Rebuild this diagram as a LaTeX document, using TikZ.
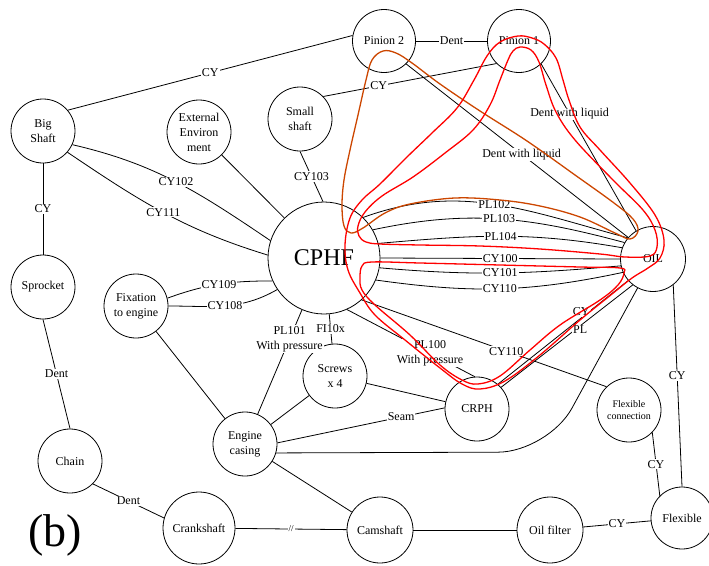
\documentclass[tikz,border=0pt]{standalone}
\usepackage{fontspec}
\setmainfont{Liberation Serif}
\usepackage{tikz}
\usetikzlibrary{topaths}
\definecolor{loopred}{RGB}{255,0,0}
\definecolor{looporange}{RGB}{204,70,0}

\begin{document}
\begin{tikzpicture}[x=1pt,y=-1pt,line width=0.8pt,
	ent/.style={circle,draw=black,line width=0.8pt,minimum size=64pt,inner sep=1pt,align=center,font=\fontsize{12}{15}\selectfont},
	lbl/.style={fill=white,inner sep=1pt,align=center,font=\fontsize{12}{15}\selectfont},
	loopr/.style={draw=loopred,line width=1.3pt},
	loopo/.style={draw=looporange,line width=1.3pt}]
	\useasboundingbox (0,0) rectangle (709,565);
	%% parts
	\node[ent,minimum size=63pt] (pin2) at (384,41) {Pinion 2};
	\node[ent,minimum size=63pt] (pin1) at (519,41) {Pinion 1};
	\node[ent] (bigshaft) at (43,131) {Big\\Shaft};
	\node[ent] (extenv) at (199,132) {External\\Environ\\ment};
	\node[ent] (smallshaft) at (300,119) {Small\\shaft};
	\node[ent,minimum size=112pt,font=\fontsize{24}{26}\selectfont] (cphf) at (324,258) {CPHF};
	\node[ent,minimum size=65pt] (oil) at (653,259) {OIL};
	\node[ent] (sprocket) at (43,287) {Sprocket};
	\node[ent] (fixation) at (136,306) {Fixation\\to engine};
	\node[ent] (screws) at (335,376) {Screws\\x 4};
	\node[ent] (engine) at (245,444) {Engine\\casing};
	\node[ent] (crph) at (477,409) {CRPH};
	\node[ent,font=\fontsize{10}{12}\selectfont] (flexconn) at (629,410) {Flexible\\connection};
	\node[ent] (chain) at (70,461) {Chain};
	\node[ent,minimum size=72pt] (crank) at (199,528) {Crankshaft};
	\node[ent,minimum size=66pt] (camshaft) at (380,530) {Camshaft};
	\node[ent,minimum size=66pt] (oilfilter) at (550,530) {Oil filter};
	\node[ent,minimum size=62pt] (flexible) at (682,518) {Flexible};
	\node[font=\fontsize{46}{50}\selectfont] (tag) at (55,535) {(b)};
	%% top links
	\draw (bigshaft.40) -- node[lbl]{CY} (pin2.170);
	\draw (pin2) -- node[lbl]{Dent} (pin1);
	\draw (smallshaft.44) -- node[lbl,pos=0.32]{CY} (pin1.225);
	\draw (pin2.314) -- node[lbl,pos=0.52]{Dent with liquid} (oil.139);
	\draw (pin1.314) -- node[lbl,pos=0.3]{Dent with liquid} (oil.121);
	%% left links
	\draw (bigshaft) -- node[lbl]{CY} (sprocket);
	\draw (bigshaft.335) to[out=-13,in=146] node[lbl]{CY102} (cphf.162);
	\draw (bigshaft.319) to[out=-34,in=163] node[lbl]{CY111} (cphf.177);
	\draw (extenv) -- (cphf);
	\draw (smallshaft.270) -- node[lbl]{CY103} (cphf.91);
	\draw (fixation.14) to[out=20,in=180] node[lbl]{CY109} (cphf.204);
	\draw (fixation.0) to[out=0,in=210] node[lbl]{CY108} (cphf.214);
	\draw (fixation) -- (engine);
	%% CPHF to the oil
	\draw (cphf.46) to[out=20,in=165] node[lbl]{PL102} (oil.140);
	\draw (cphf.30) to[out=12,in=165] node[lbl]{PL103} (oil.150);
	\draw (cphf.15) to[out=5,in=170] node[lbl]{PL104} (oil.160);
	\draw (cphf.0) -- node[lbl]{CY100} (oil.180);
	\draw (cphf.-10) to[out=-5,in=185] node[lbl]{CY101} (oil.192);
	\draw (cphf.-23) to[out=-8,in=192] node[lbl]{CY110} (oil.204);
	%% lower links
	\draw (cphf) -- node[lbl,pos=0.28]{PL101\\With pressure} (engine);
	\draw (cphf) -- node[lbl]{FI10x} (screws);
	\draw (screws) -- (engine);
	\draw (screws) -- (crph);
	\draw (cphf.294) -- node[lbl,pos=0.65]{PL100\\With pressure} (crph.94);
	\draw (cphf.312) -- node[lbl,pos=0.59]{CY110} (flexconn.134);
	\draw (crph.50) -- node[lbl,pos=0.64,yshift=6pt]{CY} (oil.221);
	\draw (crph.42) -- node[lbl,pos=0.6,yshift=-4pt]{PL} (oil.232);
	\draw (engine.2) -- node[lbl,pos=0.74]{Seam} (crph.178);
	\coordinate (bend) at (548,452);
	\draw[rounded corners=50pt] (engine.-16) -- (bend) -- (oil.242);
	\draw (engine) -- (camshaft);
	\draw (sprocket.270) -- node[lbl]{Dent} (chain.90);
	\draw (chain.-45) -- node[lbl]{Dent} (crank.164);
	\draw (crank) -- node[lbl,font=\fontsize{9}{10}\selectfont]{//} (camshaft);
	\draw (camshaft) -- (oilfilter);
	\draw (oilfilter) -- node[lbl]{CY} (flexible);
	\draw (oil.308) -- node[lbl,pos=0.45]{CY} (flexible.90);
	\draw (flexconn.316) -- node[lbl]{CY} (flexible.135);
	%% loops
	\draw[loopo] plot[smooth cycle,tension=0.6] coordinates {(383,51) (396,53) (412,63) (440,84) (480,111) (527,141) (575,175) (614,203) (633,219) (638,231) (630,239) (615,233) (580,217) (540,206) (500,200) (455,198) (410,204) (385,213) (363,228) (351,233) (344,226) (342,205) (344,180) (350,150) (358,115) (366,80) (372,60)};
	\draw[loopr] plot[smooth cycle,tension=0.6] coordinates {(520,47) (531,50) (539,62) (546,85) (556,112) (575,140) (613,180) (643,210) (655,230) (657,247) (650,256) (625,257) (600,254) (540,249) (480,246) (420,245) (380,244) (366,242) (359,236) (358,226) (365,212) (382,196) (413,177) (445,153) (473,130) (490,105) (500,80) (508,60) (513,51)};
	\draw[loopr] plot[smooth cycle,tension=0.6] coordinates {(518,36) (532,38) (544,44) (556,58) (563,80) (569,100) (580,127) (600,150) (630,183) (655,215) (664,240) (660,258) (648,268) (632,278) (612,294) (580,320) (540,355) (505,381) (480,389) (462,384) (440,368) (405,340) (375,315) (360,293) (348,270) (345,245) (350,218) (362,200) (380,184) (407,157) (432,133) (457,108) (474,80) (487,56) (500,42)};
	\draw[loopr] plot[smooth cycle,tension=0.6] coordinates {(362,290) (375,305) (410,335) (440,365) (462,380) (478,384) (500,376) (530,350) (560,325) (600,300) (618,285) (624,273) (620,268) (580,267) (500,265) (420,263) (372,262) (362,266) (360,278)};
\end{tikzpicture}
\end{document}
